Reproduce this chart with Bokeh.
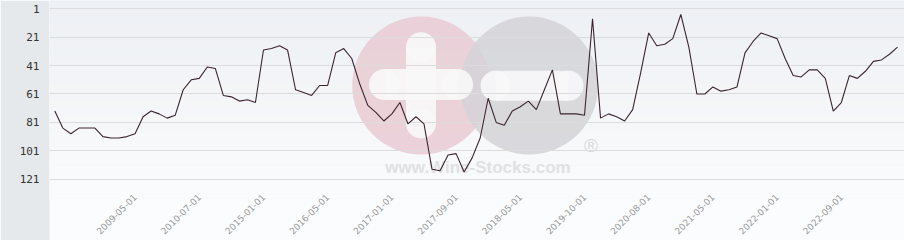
import math
from bokeh.plotting import figure
from bokeh.models import Range1d, FixedTicker, BoxAnnotation
from bokeh.embed import file_html
from bokeh.resources import INLINE
from bokeh.core.properties import value

# ---- data (rank, lower is better; axis inverted) ----
ranks = [73, 85, 89, 85, 85, 85, 91, 92, 92, 91,
         89, 77, 73, 75, 78, 76, 58, 51, 50, 42,
         43, 62, 63, 66, 65, 67, 30, 29, 27, 30,
         58, 60, 62, 55, 55, 32, 29, 36, 54, 69,
         74, 80, 75, 67, 82, 77, 82, 114, 115, 104,
         103, 116, 106, 92, 64, 81, 83, 73, 70, 66,
         72, 58, 44, 75, 75, 75, 76, 8, 78, 75,
         77, 80, 72, 46, 18, 27, 26, 22, 5, 28,
         61, 61, 56, 59, 58, 56, 32, 24, 18, 20,
         22, 36, 48, 49, 44, 44, 50, 73, 67, 48,
         50, 45, 38, 37, 33, 28]
tick_labels = ["2009-05-01", "2010-07-01", "2015-01-01", "2016-05-01",
               "2017-01-01", "2017-09-01", "2018-05-01", "2019-10-01",
               "2020-08-01", "2021-05-01", "2022-01-01", "2022-09-01"]
tick_index = [10, 18, 26, 34, 42, 50, 58, 66, 74, 82, 90, 98]
y_ticks = [1, 21, 41, 61, 81, 101, 121]

xs = list(range(len(ranks)))

X0, X1 = -0.66, 105.87
Y_BOTTOM, Y_TOP = 134.6, -4.85
FRAME_L, FRAME_W, FRAME_H = 49, 855, 198

p = figure(width=904, height=240, output_backend="svg", toolbar_location=None,
           x_range=Range1d(X0, X1), y_range=Range1d(Y_BOTTOM, Y_TOP),
           min_border_left=FRAME_L, min_border_right=0, min_border_top=0,
           min_border_bottom=0)
p.outline_line_color = None
p.background_fill_color = "#f3f4f7"
p.border_fill_color = "#e6e9ec"

# background vertical gradient (decoration)
def mix(c1, c2, t):
    a = [int(c1[i:i + 2], 16) for i in (1, 3, 5)]
    b = [int(c2[i:i + 2], 16) for i in (1, 3, 5)]
    return "#%02x%02x%02x" % tuple(round(a[k] + (b[k] - a[k]) * t) for k in range(3))

nb = 24
for k in range(nb):
    top = Y_TOP + (Y_BOTTOM - Y_TOP) * k / nb
    bot = Y_TOP + (Y_BOTTOM - Y_TOP) * (k + 1) / nb
    p.add_layout(BoxAnnotation(top=top, bottom=bot, fill_color=mix("#edf0f4", "#fafbfc", k / (nb - 1)),
                               fill_alpha=1, line_color=None, level="image"))

# watermark (decoration)
def dx(px):
    return X0 + (px - FRAME_L) * (X1 - X0) / FRAME_W

def dy(py):
    return Y_TOP + py * (Y_BOTTOM - Y_TOP) / FRAME_H

LV = "underlay"
WA = 0.85
p.scatter(x=[dx(420.7)], y=[dy(85)], size=138, marker="circle", fill_color="#e9cbd4",
          fill_alpha=WA, line_color=None, level=LV)
p.scatter(x=[dx(528.7)], y=[dy(85)], size=138, marker="circle", fill_color="#d4d4d7",
          fill_alpha=WA, line_color=None, level=LV)
bar = "#f7f7f9"
BA = 0.92
# plus
p.rect(x=[dx(420.5)], y=[dy(85)], width=30, height=76, width_units="screen",
       height_units="screen", fill_color=bar, fill_alpha=BA, line_color=None, level=LV)
p.scatter(x=[dx(420.5), dx(420.5)], y=[dy(46.7), dy(123)], size=30, marker="circle",
          fill_color=bar, fill_alpha=BA, line_color=None, level=LV)
p.rect(x=[dx(420.5)], y=[dy(84)], width=73, height=31, width_units="screen",
       height_units="screen", fill_color=bar, fill_alpha=BA, line_color=None, level=LV)
p.scatter(x=[dx(384), dx(457)], y=[dy(84), dy(84)], size=31, marker="circle",
          fill_color=bar, fill_alpha=BA, line_color=None, level=LV)
# minus
p.rect(x=[dx(531.5)], y=[dy(85.3)], width=73, height=30, width_units="screen",
       height_units="screen", fill_color=bar, fill_alpha=BA, line_color=None, level=LV)
p.scatter(x=[dx(495), dx(568)], y=[dy(85.3), dy(85.3)], size=30, marker="circle",
          fill_color=bar, fill_alpha=BA, line_color=None, level=LV)
p.text(x=[dx(477.5)], y=[dy(166.5)], text=["www.Wine-Stocks.com"],
       text_font=value("Liberation Sans"), text_font_style="bold", text_font_size="17px",
       text_color="#e1e1e3", text_align="center", text_baseline="middle", level=LV)
p.text(x=[dx(590.5)], y=[dy(145)], text=["®"],
       text_font=value("Liberation Sans"), text_font_size="19px",
       text_color="#d8d8da", text_align="center", text_baseline="middle", level=LV)

# the series
p.line(xs, ranks, line_color="#3a2430", line_width=1.1)

# axes
p.xgrid.visible = False
p.ygrid.grid_line_color = "#dcdcdc"
p.ygrid.grid_line_width = 1

ya = p.yaxis[0]
ya.ticker = FixedTicker(ticks=y_ticks)
ya.axis_line_color = None
ya.major_tick_line_color = None
ya.minor_tick_line_color = None
ya.major_label_text_font = "DejaVu Sans Mono"
ya.major_label_text_font_size = "11px"
ya.major_label_text_color = "#333333"
ya.major_label_standoff = 4

xa = p.xaxis[0]
xa.ticker = FixedTicker(ticks=tick_index)
xa.major_label_overrides = {i: s for i, s in zip(tick_index, tick_labels)}
xa.major_label_orientation = math.pi / 4
xa.axis_line_color = None
xa.major_tick_line_color = None
xa.minor_tick_line_color = None
xa.major_label_text_font = "DejaVu Sans"
xa.major_label_text_font_size = "9px"
xa.major_label_text_color = "#999999"
xa.major_label_standoff = -9
xa.background_fill_color = "#fbfcfd"

open("out.html", "w").write(file_html(p, INLINE))
